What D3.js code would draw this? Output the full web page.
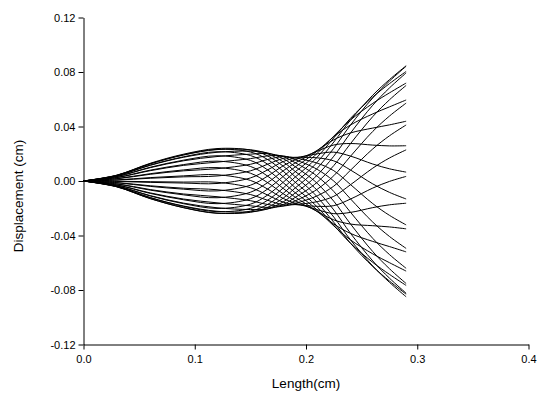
<!DOCTYPE html>
<html><head><meta charset="utf-8">
<script src="https://cdn.jsdelivr.net/npm/d3@7"></script>
<style>body{margin:0;background:#fff} svg{display:block} text{font-family:Arial,"Liberation Sans",sans-serif;fill:#000}</style>
</head><body><svg id="c" width="539" height="394"></svg>
<script>
// Length positions (cm) at which displacement was read
const lengthCm = [0, 0.03, 0.06, 0.09, 0.12, 0.15, 0.165, 0.18, 0.19, 0.20, 0.21, 0.225, 0.24, 0.26, 0.275, 0.29];
const xTicks = [0, 0.1, 0.2, 0.3, 0.4];
const yTicks = [-0.12, -0.08, -0.04, 0, 0.04, 0.08, 0.12];
// Displacement (cm) of each snapshot, one row per curve
const displacementCurves = [
 [0, -0.00428, -0.01294, -0.01961, -0.02369, -0.02215, -0.01743, -0.00875, -0.00134, 0.00563, 0.01372, 0.02861, 0.04474, 0.06298, 0.07439, 0.08459],
 [0, -0.00407, -0.01230, -0.01863, -0.02251, -0.02013, -0.01439, -0.00478, 0.00270, 0.00956, 0.01747, 0.03164, 0.04600, 0.06164, 0.07145, 0.08040],
 [0, -0.00364, -0.01099, -0.01666, -0.02013, -0.01702, -0.01057, -0.00056, 0.00660, 0.01298, 0.02027, 0.03295, 0.04478, 0.05698, 0.06468, 0.07188],
 [0, -0.00301, -0.00910, -0.01378, -0.01665, -0.01300, -0.00618, 0.00370, 0.01014, 0.01571, 0.02197, 0.03249, 0.04113, 0.04924, 0.05440, 0.05947],
 [0, -0.00222, -0.00671, -0.01017, -0.01228, -0.00827, -0.00147, 0.00775, 0.01312, 0.01758, 0.02249, 0.03028, 0.03528, 0.03885, 0.04119, 0.04387],
 [0, -0.00131, -0.00396, -0.00600, -0.00725, -0.00310, 0.00333, 0.01140, 0.01541, 0.01851, 0.02180, 0.02643, 0.02751, 0.02636, 0.02576, 0.02588],
 [0, -0.00033, -0.00100, -0.00151, -0.00183, 0.00224, 0.00796, 0.01442, 0.01686, 0.01844, 0.01993, 0.02116, 0.01828, 0.01246, 0.00895, 0.00652],
 [0, 0.00067, 0.00202, 0.00306, 0.00369, 0.00746, 0.01215, 0.01667, 0.01740, 0.01737, 0.01700, 0.01476, 0.00805, -0.00211, -0.00834, -0.01319],
 [0, 0.00163, 0.00493, 0.00747, 0.00902, 0.01227, 0.01569, 0.01801, 0.01700, 0.01536, 0.01314, 0.00755, -0.00262, -0.01659, -0.02520, -0.03222],
 [0, 0.00250, 0.00757, 0.01147, 0.01385, 0.01642, 0.01837, 0.01839, 0.01570, 0.01254, 0.00857, -0.00006, -0.01314, -0.03016, -0.04069, -0.04948],
 [0, 0.00324, 0.00980, 0.01485, 0.01794, 0.01970, 0.02008, 0.01778, 0.01354, 0.00903, 0.00355, -0.00767, -0.02295, -0.04209, -0.05397, -0.06408],
 [0, 0.00381, 0.01151, 0.01744, 0.02107, 0.02191, 0.02069, 0.01621, 0.01065, 0.00503, -0.00167, -0.01487, -0.03153, -0.05178, -0.06438, -0.07524],
 [0, 0.00416, 0.01259, 0.01908, 0.02305, 0.02293, 0.02020, 0.01376, 0.00719, 0.00077, -0.00680, -0.02126, -0.03839, -0.05866, -0.07128, -0.08233],
 [0, 0.00430, 0.01300, 0.01970, 0.02380, 0.02272, 0.01862, 0.01058, 0.00334, -0.00353, -0.01156, -0.02650, -0.04320, -0.06238, -0.07436, -0.08498],
 [0, 0.00420, 0.01270, 0.01925, 0.02326, 0.02128, 0.01602, 0.00682, -0.00069, -0.00765, -0.01570, -0.03033, -0.04568, -0.06273, -0.07342, -0.08306],
 [0, 0.00388, 0.01172, 0.01777, 0.02146, 0.01871, 0.01257, 0.00269, -0.00469, -0.01135, -0.01899, -0.03251, -0.04569, -0.05971, -0.06852, -0.07665],
 [0, 0.00334, 0.01011, 0.01532, 0.01851, 0.01511, 0.00843, -0.00158, -0.00842, -0.01444, -0.02126, -0.03294, -0.04324, -0.05347, -0.05994, -0.06612],
 [0, 0.00263, 0.00796, 0.01206, 0.01457, 0.01070, 0.00386, -0.00576, -0.01171, -0.01676, -0.02239, -0.03159, -0.03847, -0.04434, -0.04812, -0.05202],
 [0, 0.00178, 0.00537, 0.00814, 0.00983, 0.00573, -0.00094, -0.00964, -0.01436, -0.01817, -0.02230, -0.02855, -0.03161, -0.03282, -0.03371, -0.03511],
 [0, 0.00083, 0.00250, 0.00378, 0.00457, 0.00043, -0.00569, -0.01299, -0.01624, -0.01859, -0.02102, -0.02396, -0.02305, -0.01955, -0.01748, -0.01632],
 [0, -0.00017, -0.00051, -0.00078, -0.00094, -0.00489, -0.01012, -0.01565, -0.01725, -0.01803, -0.01859, -0.01808, -0.01325, -0.00519, -0.00030, 0.00337],
 [0, -0.00116, -0.00350, -0.00530, -0.00640, -0.00993, -0.01401, -0.01746, -0.01732, -0.01648, -0.01517, -0.01123, -0.00274, 0.00941, 0.01688, 0.02286],
 [0, -0.00208, -0.00629, -0.00953, -0.01151, -0.01445, -0.01715, -0.01833, -0.01646, -0.01405, -0.01093, -0.00377, 0.00793, 0.02353, 0.03316, 0.04111],
 [0, -0.00289, -0.00874, -0.01325, -0.01601, -0.01818, -0.01936, -0.01821, -0.01471, -0.01086, -0.00610, 0.00389, 0.01816, 0.03638, 0.04765, 0.05717],
 [0, -0.00355, -0.01073, -0.01625, -0.01964, -0.02094, -0.02052, -0.01711, -0.01217, -0.00709, -0.00094, 0.01134, 0.02742, 0.04725, 0.05957, 0.07013],
 [0, -0.00401, -0.01213, -0.01838, -0.02221, -0.02257, -0.02059, -0.01508, -0.00898, -0.00293, 0.00426, 0.01819, 0.03520, 0.05559, 0.06829, 0.07932],
 [0, -0.00426, -0.01288, -0.01952, -0.02358, -0.02298, -0.01953, -0.01225, -0.00530, 0.00138, 0.00924, 0.02405, 0.04108, 0.06093, 0.07331, 0.08423]
];

const svg = d3.select('#c');
const x = d3.scaleLinear().domain([0, 0.4]).range([83.5, 528.5]);
const y = d3.scaleLinear().domain([-0.12, 0.12]).range([344.5, 17.5]);

const line = d3.line()
  .x((d, i) => x(lengthCm[i]))
  .y(d => y(d))
  .curve(d3.curveCatmullRom.alpha(0.5));

svg.append('g').selectAll('path').data(displacementCurves).join('path')
  .attr('d', line)
  .attr('fill', 'none')
  .attr('stroke', '#000')
  .attr('stroke-width', 1);

const yAxis = d3.axisLeft(y).tickValues(yTicks).tickSize(5).tickSizeOuter(0).tickPadding(3)
  .tickFormat(d => d.toFixed(2));
const gy = svg.append('g').attr('transform', 'translate(83.5,0)').call(yAxis);
const xAxis = d3.axisBottom(x).tickValues(xTicks).tickSize(5).tickSizeOuter(0).tickPadding(6)
  .tickFormat(d => d.toFixed(1));
const gx = svg.append('g').attr('transform', 'translate(0,344.5)').call(xAxis);
[gx, gy].forEach(g => {
  g.selectAll('text').style('font-size', '11px').style('font-family', 'Arial, "Liberation Sans", sans-serif').attr('fill', '#000');
  g.selectAll('line,path').attr('stroke', '#000');
});

svg.append('text').attr('x', 306).attr('y', 388).attr('text-anchor', 'middle')
  .style('font-size', '13.5px').text('Length(cm)');
svg.append('text').attr('transform', 'translate(23,196) rotate(-90)').attr('text-anchor', 'middle')
  .style('font-size', '13.5px').text('Displacement (cm)');
</script></body></html>
